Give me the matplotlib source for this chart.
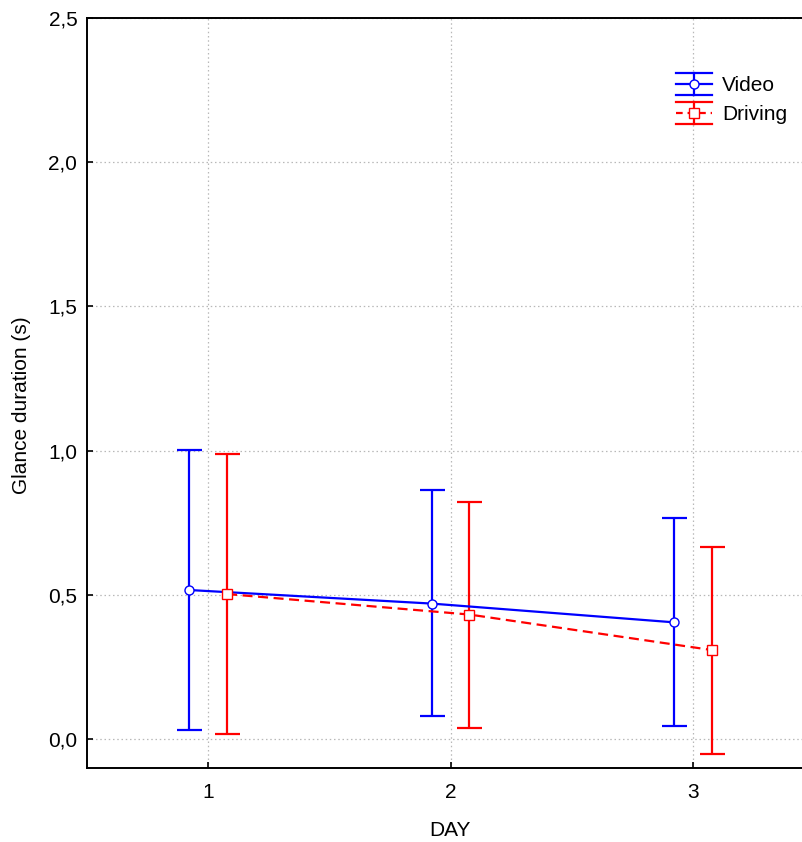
import matplotlib
matplotlib.use("Agg")
import matplotlib.pyplot as plt
from matplotlib.legend_handler import HandlerBase
from matplotlib.lines import Line2D
import numpy as np

days = [1, 2, 3]
video_mean = [0.517, 0.470, 0.405]
video_low = [0.031, 0.080, 0.047]
video_high = [1.004, 0.865, 0.766]
driving_mean = [0.503, 0.432, 0.309]
driving_low = [0.017, 0.037, -0.052]
driving_high = [0.990, 0.822, 0.667]
yticks = [0.0, 0.5, 1.0, 1.5, 2.0, 2.5]
ytick_labels = ["0,0", "0,5", "1,0", "1,5", "2,0", "2,5"]

plt.rcParams['font.family'] = ['Liberation Sans', 'DejaVu Sans']
FS = 15

fig = plt.figure(figsize=(8.02, 8.42), dpi=100)
ax = fig.add_axes([87/802, 74/842, 727/802, 750/842])

off = 0.078
x = np.array(days, dtype=float)
DASH = (4.5, 2.5)

def draw(xs, mean, low, high, color, ls, marker):
    mean = np.array(mean); low = np.array(low); high = np.array(high)
    ax.errorbar(xs, mean, yerr=[mean - low, high - mean], fmt='none',
                ecolor=color, elinewidth=1.6, capsize=9, capthick=1.6, zorder=3)
    kw = dict(dashes=DASH) if ls == '--' else {}
    ax.plot(xs, mean, color=color, ls=ls, lw=1.6, marker=marker, ms=6.5,
            mfc='white', mec=color, mew=1.0, zorder=4, **kw)

draw(x - off, video_mean, video_low, video_high, '#0000ff', '-', 'o')
draw(x + off, driving_mean, driving_low, driving_high, '#ff0000', '--', 's')

ax.set_xlim(0.5, 3.5)
ax.set_ylim(-0.1, 2.5)
ax.set_xticks(days)
ax.set_xticklabels([str(d) for d in days])
ax.set_yticks(yticks)
ax.set_yticklabels(ytick_labels)
ax.tick_params(direction='in', length=4, width=1.2, labelsize=FS, colors='black')
ax.tick_params(axis='y', pad=7)
ax.tick_params(axis='x', pad=10.5)
ax.grid(True, ls=(0, (1.2, 2.2)), color='#b8b8b8', lw=0.9)
ax.set_axisbelow(True)
for s in ax.spines.values():
    s.set_linewidth(1.4)
ax.set_xlabel('DAY', fontsize=FS, va='center')
ax.xaxis.set_label_coords((450 - 87) / 727, -63 / 750)
ax.set_ylabel('Glance duration (s)', fontsize=FS, va='center')
ax.yaxis.set_label_coords(-65 / 727, (768 - 405) / 750)


class ErrHandler(HandlerBase):
    def __init__(self, color, ls, marker):
        super().__init__()
        self.color = color; self.ls = ls; self.marker = marker

    def create_artists(self, legend, orig_handle, xdescent, ydescent, width, height, fontsize, trans):
        x0, x1 = -xdescent, -xdescent + width
        yc = -ydescent + height / 2
        h = 8
        xm = (x0 + x1) / 2
        arts = []
        for yy in (yc - h, yc + h):
            arts.append(Line2D([x0, x1], [yy, yy], color=self.color, lw=1.6))
        arts.append(Line2D([xm, xm], [yc - h, yc + h], color=self.color, lw=1.6))
        if self.ls == '--':
            arts.append(Line2D([x0, x1], [yc, yc], color=self.color, lw=1.6, dashes=(3, 2.2)))
        else:
            arts.append(Line2D([x0, x1], [yc, yc], color=self.color, lw=1.6))
        arts.append(Line2D([xm], [yc], marker=self.marker, ms=6.5, mfc='white',
                           mec=self.color, mew=1.0, ls='none'))
        for a in arts:
            a.set_transform(trans)
        return arts

h1 = Line2D([], [], color='#0000ff')
h2 = Line2D([], [], color='#ff0000')
ax.legend([h1, h2], ['Video', 'Driving'],
          handler_map={h1: ErrHandler('#0000ff', '-', 'o'), h2: ErrHandler('#ff0000', '--', 's')},
          loc='upper left', bbox_to_anchor=(676/802, 1 - 75/842), bbox_transform=fig.transFigure,
          frameon=False, fontsize=FS, handlelength=1.73, handleheight=1.0,
          labelspacing=0.40, handletextpad=0.48, borderpad=0, borderaxespad=0)

fig.savefig('out.png', dpi=100)
